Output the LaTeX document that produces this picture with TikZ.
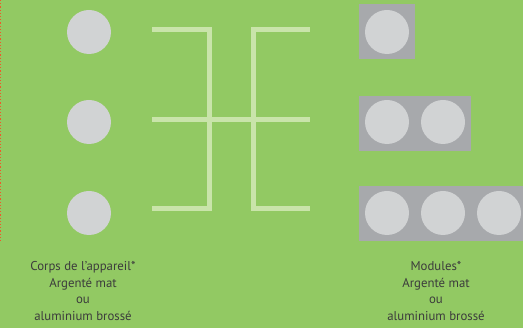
\documentclass[tikz,border=0pt]{standalone}
\usepackage{fontspec}
\setmainfont{PT Sans}
\definecolor{fond}{HTML}{92C963}
\definecolor{disque}{HTML}{D1D3D4}
\definecolor{cadre}{HTML}{A7A9AC}
\definecolor{trait}{HTML}{C9E4AA}
\definecolor{texte}{HTML}{3C3C3C}
\definecolor{pointille}{HTML}{EE5A2A}
\tikzset{
  disc/.style={circle,fill=disque,minimum size=44pt,inner sep=0pt},
  boitier/.style={fill=cadre,minimum height=55pt,inner sep=0pt,anchor=west},
  liaison/.style={trait,line width=5pt},
  legende/.style={texte,align=center,font=\fontsize{12.8}{16.5}\selectfont,anchor=north}
}
\begin{document}
\begin{tikzpicture}[x=1pt,y=-1pt]
  \fill[fond] (0,0) rectangle (523,328);
  \useasboundingbox (0,0) rectangle (523,328);
  \draw[pointille,line width=1.2pt,dash pattern=on 1.2pt off 2pt] (0.6,0) -- (0.6,242);
  % corps
  \node[disc] (c1) at (89,32) {};
  \node[disc] (c2) at (89,122) {};
  \node[disc] (c3) at (89,213) {};
  % liaisons
  \coordinate (g1) at (152,30);
  \coordinate (g2) at (152,120);
  \coordinate (g3) at (152,209);
  \coordinate (d1) at (310,30);
  \coordinate (d2) at (310,120);
  \coordinate (d3) at (310,209);
  \draw[liaison] (g1) -| (209,209) -- (g3);
  \draw[liaison] (d1) -| (253,209) -- (d3);
  \draw[liaison] (g2) -- (d2);
  % modules
  \node[boitier,minimum width=56pt] (m1) at (359,31.5) {};
  \node[boitier,minimum width=112pt] (m2) at (359,123.5) {};
  \node[boitier,minimum width=168pt] (m3) at (359,213.5) {};
  \node[disc] (m11) at (387,32) {};
  \node[disc] (m21) at (387,122) {};
  \node[disc] (m22) at (443,122) {};
  \node[disc] (m31) at (387,213) {};
  \node[disc] (m32) at (443,213) {};
  \node[disc] (m33) at (499,213) {};
  % textes
  \node[legende] (tc) at (83,258) {Corps de l’appareil*\\Argenté mat\\ou\\aluminium brossé};
  \node[legende] (tm) at (436,258) {Modules*\\Argenté mat\\ou\\aluminium brossé};
\end{tikzpicture}
\end{document}
